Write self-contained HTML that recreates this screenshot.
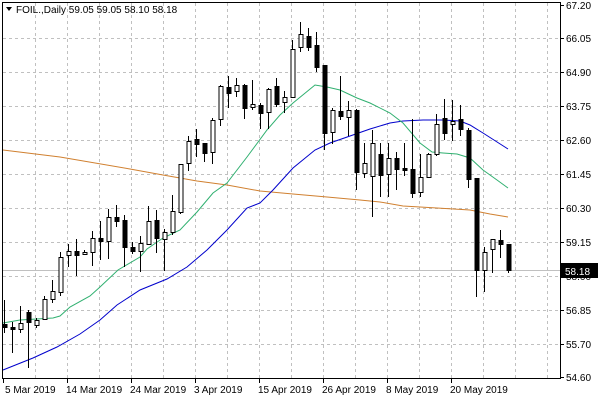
<!DOCTYPE html>
<html><head><meta charset="utf-8"><style>
html,body{margin:0;padding:0;background:#fff;}
svg{display:block;font-family:"Liberation Sans",sans-serif;font-size:10px;}
</style></head><body>
<svg width="600" height="400" xmlns="http://www.w3.org/2000/svg">
<rect width="600" height="400" fill="#fff"/>
<g stroke="#c0c0c0" stroke-dasharray="3,3" stroke-width="1">
<line x1="3" x2="560" y1="38.5" y2="38.5"/><line x1="3" x2="560" y1="72.5" y2="72.5"/><line x1="3" x2="560" y1="106.5" y2="106.5"/><line x1="3" x2="560" y1="140.5" y2="140.5"/><line x1="3" x2="560" y1="174.5" y2="174.5"/><line x1="3" x2="560" y1="208.5" y2="208.5"/><line x1="3" x2="560" y1="242.5" y2="242.5"/><line x1="3" x2="560" y1="276.5" y2="276.5"/><line x1="3" x2="560" y1="310.5" y2="310.5"/><line x1="3" x2="560" y1="344.5" y2="344.5"/>
<line y1="3" y2="378" x1="35.5" x2="35.5"/><line y1="3" y2="378" x1="67.5" x2="67.5"/><line y1="3" y2="378" x1="99.5" x2="99.5"/><line y1="3" y2="378" x1="131.5" x2="131.5"/><line y1="3" y2="378" x1="163.5" x2="163.5"/><line y1="3" y2="378" x1="195.5" x2="195.5"/><line y1="3" y2="378" x1="227.5" x2="227.5"/><line y1="3" y2="378" x1="259.5" x2="259.5"/><line y1="3" y2="378" x1="291.5" x2="291.5"/><line y1="3" y2="378" x1="323.5" x2="323.5"/><line y1="3" y2="378" x1="355.5" x2="355.5"/><line y1="3" y2="378" x1="387.5" x2="387.5"/><line y1="3" y2="378" x1="419.5" x2="419.5"/><line y1="3" y2="378" x1="451.5" x2="451.5"/><line y1="3" y2="378" x1="483.5" x2="483.5"/><line y1="3" y2="378" x1="515.5" x2="515.5"/><line y1="3" y2="378" x1="547.5" x2="547.5"/>
</g>
<line x1="3" x2="560" y1="270.5" y2="270.5" stroke="#c0c0c0"/>
<polyline fill="none" stroke="#d08030" stroke-width="1" points="3,150 60,157 130,169 163,175 197,181 227,185 260,191 293,194 327,197 360,200 380,202 403,206 437,208 470,210 490,214 508,217"/>
<polyline fill="none" stroke="#0000cc" stroke-width="1" points="3,370 33,358 57,347 80,334 100,320 117,305 140,290 167,279 187,267 207,250 227,230 247,208 260,203 273,190 293,168 315,150 330,143 350,136 370,129 390,123 403,121 423,120 443,120 460,121 470,125 483,133 508,149"/>
<polyline fill="none" stroke="#30b070" stroke-width="1" points="3,323 20,320 53,318 60,316 70,307 90,296 100,287 118,270 140,257 147,249 163,238 180,230 197,212 213,193 227,183 247,157 267,130 280,115 293,103 315,85 327,87 340,90 357,98 370,103 390,113 403,123 420,143 432,152 443,153 457,154 470,158 483,170 497,180 508,188"/>
<g stroke="#000" stroke-width="1" id="c">
<line x1="4.5" x2="4.5" y1="300" y2="333"/><rect x="3" y="324.5" width="4" height="3" fill="#000"/>
<line x1="12.5" x2="12.5" y1="322" y2="353"/><rect x="11" y="327.5" width="4" height="2" fill="#000"/>
<line x1="20.5" x2="20.5" y1="306" y2="333"/><rect x="19" y="323.5" width="4" height="6" fill="#fff"/>
<line x1="28.5" x2="28.5" y1="310" y2="368"/><rect x="27" y="312.5" width="4" height="10" fill="#000"/>
<line x1="36.5" x2="36.5" y1="318" y2="328"/><rect x="35" y="320.5" width="4" height="5" fill="#fff"/>
<line x1="44.5" x2="44.5" y1="296" y2="320"/><rect x="43" y="299.5" width="4" height="20" fill="#fff"/>
<line x1="52.5" x2="52.5" y1="280" y2="303"/><rect x="51" y="291.5" width="4" height="8" fill="#fff"/>
<line x1="60.5" x2="60.5" y1="252" y2="296"/><rect x="59" y="257.5" width="4" height="35" fill="#fff"/>
<line x1="68.5" x2="68.5" y1="244" y2="267"/><rect x="67" y="251.5" width="4" height="4" fill="#fff"/>
<line x1="76.5" x2="76.5" y1="239" y2="276"/><rect x="75" y="251.5" width="4" height="4" fill="#000"/>
<line x1="84.5" x2="84.5" y1="250" y2="254"/><rect x="83" y="252.5" width="4" height="2" fill="#fff"/>
<line x1="92.5" x2="92.5" y1="231" y2="266"/><rect x="91" y="238.5" width="4" height="14" fill="#fff"/>
<line x1="100.5" x2="100.5" y1="221" y2="260"/><rect x="99" y="238.5" width="4" height="3" fill="#000"/>
<line x1="108.5" x2="108.5" y1="209" y2="259"/><rect x="107" y="217.5" width="4" height="24" fill="#fff"/>
<line x1="116.5" x2="116.5" y1="205" y2="227"/><rect x="115" y="217.5" width="4" height="4" fill="#000"/>
<line x1="124.5" x2="124.5" y1="215" y2="267"/><rect x="123" y="220.5" width="4" height="27" fill="#000"/>
<line x1="132.5" x2="132.5" y1="242" y2="254"/><rect x="131" y="247.5" width="4" height="4" fill="#000"/>
<line x1="140.5" x2="140.5" y1="236" y2="272"/><rect x="139" y="243.5" width="4" height="8" fill="#fff"/>
<line x1="148.5" x2="148.5" y1="206" y2="245"/><rect x="147" y="221.5" width="4" height="23" fill="#fff"/>
<line x1="156.5" x2="156.5" y1="210" y2="253"/><rect x="155" y="220.5" width="4" height="18" fill="#000"/>
<line x1="164.5" x2="164.5" y1="229" y2="271"/><rect x="163" y="232.5" width="4" height="7" fill="#fff"/>
<line x1="172.5" x2="172.5" y1="195" y2="235"/><rect x="171" y="211.5" width="4" height="21" fill="#fff"/>
<line x1="180.5" x2="180.5" y1="164" y2="214"/><rect x="179" y="164.5" width="4" height="48" fill="#fff"/>
<line x1="188.5" x2="188.5" y1="136" y2="171"/><rect x="187" y="141.5" width="4" height="22" fill="#fff"/>
<line x1="196.5" x2="196.5" y1="129" y2="157"/><rect x="195" y="139.5" width="4" height="5" fill="#000"/>
<line x1="204.5" x2="204.5" y1="143" y2="162"/><rect x="203" y="143.5" width="4" height="10" fill="#000"/>
<line x1="212.5" x2="212.5" y1="118" y2="164"/><rect x="211" y="120.5" width="4" height="32" fill="#fff"/>
<line x1="220.5" x2="220.5" y1="85" y2="126"/><rect x="219" y="86.5" width="4" height="33" fill="#fff"/>
<line x1="228.5" x2="228.5" y1="76" y2="108"/><rect x="227" y="87.5" width="4" height="6" fill="#000"/>
<line x1="236.5" x2="236.5" y1="78" y2="97"/><rect x="235" y="85.5" width="4" height="6" fill="#fff"/>
<line x1="244.5" x2="244.5" y1="84" y2="119"/><rect x="243" y="85.5" width="4" height="23" fill="#000"/>
<line x1="252.5" x2="252.5" y1="80" y2="110"/><rect x="251" y="104.5" width="4" height="3" fill="#fff"/>
<line x1="260.5" x2="260.5" y1="103" y2="129"/><rect x="259" y="105.5" width="4" height="8" fill="#000"/>
<line x1="268.5" x2="268.5" y1="88" y2="129"/><rect x="267" y="89.5" width="4" height="23" fill="#fff"/>
<line x1="276.5" x2="276.5" y1="78" y2="107"/><rect x="275" y="86.5" width="4" height="18" fill="#000"/>
<line x1="284.5" x2="284.5" y1="91" y2="113"/><rect x="283" y="97.5" width="4" height="5" fill="#fff"/>
<line x1="292.5" x2="292.5" y1="40" y2="98"/><rect x="291" y="49.5" width="4" height="48" fill="#fff"/>
<line x1="300.5" x2="300.5" y1="22" y2="52"/><rect x="299" y="34.5" width="4" height="13" fill="#fff"/>
<line x1="308.5" x2="308.5" y1="28" y2="51"/><rect x="307" y="36.5" width="4" height="11" fill="#000"/>
<line x1="316.5" x2="316.5" y1="32" y2="72"/><rect x="315" y="45.5" width="4" height="22" fill="#000"/>
<line x1="324.5" x2="324.5" y1="65" y2="150"/><rect x="323" y="65.5" width="4" height="68" fill="#000"/>
<line x1="332.5" x2="332.5" y1="108" y2="144"/><rect x="331" y="110.5" width="4" height="22" fill="#fff"/>
<line x1="340.5" x2="340.5" y1="76" y2="120"/><rect x="339" y="111.5" width="4" height="5" fill="#000"/>
<line x1="348.5" x2="348.5" y1="101" y2="136"/><rect x="347" y="110.5" width="4" height="7" fill="#fff"/>
<line x1="356.5" x2="356.5" y1="109" y2="190"/><rect x="355" y="110.5" width="4" height="62" fill="#000"/>
<line x1="364.5" x2="364.5" y1="143" y2="178"/><rect x="363" y="163.5" width="4" height="10" fill="#fff"/>
<line x1="372.5" x2="372.5" y1="130" y2="217"/><rect x="371" y="143.5" width="4" height="33" fill="#fff"/>
<line x1="380.5" x2="380.5" y1="143" y2="197"/><rect x="379" y="154.5" width="4" height="21" fill="#000"/>
<line x1="388.5" x2="388.5" y1="143" y2="197"/><rect x="387" y="158.5" width="4" height="16" fill="#fff"/>
<line x1="396.5" x2="396.5" y1="152" y2="190"/><rect x="395" y="158.5" width="4" height="11" fill="#000"/>
<line x1="404.5" x2="404.5" y1="143" y2="176"/><rect x="403" y="168.5" width="4" height="2" fill="#000"/>
<line x1="412.5" x2="412.5" y1="119" y2="198"/><rect x="411" y="169.5" width="4" height="24" fill="#000"/>
<line x1="420.5" x2="420.5" y1="154" y2="197"/><rect x="419" y="177.5" width="4" height="15" fill="#fff"/>
<line x1="428.5" x2="428.5" y1="153" y2="178"/><rect x="427" y="154.5" width="4" height="23" fill="#fff"/>
<line x1="436.5" x2="436.5" y1="114" y2="156"/><rect x="435" y="124.5" width="4" height="30" fill="#fff"/>
<line x1="444.5" x2="444.5" y1="99" y2="140"/><rect x="443" y="118.5" width="4" height="15" fill="#000"/>
<line x1="452.5" x2="452.5" y1="100" y2="141"/><rect x="451" y="121.5" width="4" height="3" fill="#fff"/>
<line x1="460.5" x2="460.5" y1="105" y2="136"/><rect x="459" y="119.5" width="4" height="10" fill="#000"/>
<line x1="468.5" x2="468.5" y1="128" y2="188"/><rect x="467" y="130.5" width="4" height="49" fill="#000"/>
<line x1="476.5" x2="476.5" y1="178" y2="297"/><rect x="475" y="178.5" width="4" height="92" fill="#000"/>
<line x1="484.5" x2="484.5" y1="247" y2="292"/><rect x="483" y="252.5" width="4" height="18" fill="#fff"/>
<line x1="492.5" x2="492.5" y1="239" y2="273"/><rect x="491" y="239.5" width="4" height="10" fill="#fff"/>
<line x1="500.5" x2="500.5" y1="230" y2="258"/><rect x="499" y="240.5" width="4" height="4" fill="#000"/>
<line x1="508.5" x2="508.5" y1="244" y2="273"/><rect x="507" y="244.5" width="4" height="26" fill="#000"/>
</g>
<rect x="2.5" y="2.5" width="558" height="376" fill="none" stroke="#000"/>
<g stroke="#000">
<line x1="560" x2="564" y1="5.5" y2="5.5"/><line x1="560" x2="564" y1="38.5" y2="38.5"/><line x1="560" x2="564" y1="72.5" y2="72.5"/><line x1="560" x2="564" y1="106.5" y2="106.5"/><line x1="560" x2="564" y1="140.5" y2="140.5"/><line x1="560" x2="564" y1="174.5" y2="174.5"/><line x1="560" x2="564" y1="208.5" y2="208.5"/><line x1="560" x2="564" y1="242.5" y2="242.5"/><line x1="560" x2="564" y1="276.5" y2="276.5"/><line x1="560" x2="564" y1="310.5" y2="310.5"/><line x1="560" x2="564" y1="344.5" y2="344.5"/><line x1="560" x2="564" y1="377.5" y2="377.5"/>
<line x1="3.5" x2="3.5" y1="378" y2="383"/><line x1="67.5" x2="67.5" y1="378" y2="383"/><line x1="131.5" x2="131.5" y1="378" y2="383"/><line x1="195.5" x2="195.5" y1="378" y2="383"/><line x1="259.5" x2="259.5" y1="378" y2="383"/><line x1="323.5" x2="323.5" y1="378" y2="383"/><line x1="387.5" x2="387.5" y1="378" y2="383"/><line x1="451.5" x2="451.5" y1="378" y2="383"/>
</g>
<g fill="#000">
<text x="566" y="9">67.20</text><text x="566" y="42">66.05</text><text x="566" y="76">64.90</text><text x="566" y="110">63.75</text><text x="566" y="144">62.60</text><text x="566" y="178">61.45</text><text x="566" y="212">60.30</text><text x="566" y="246">59.15</text><text x="566" y="280">58.00</text><text x="566" y="314">56.85</text><text x="566" y="348">55.70</text><text x="566" y="381">54.60</text>
<text x="5" y="393">5 Mar 2019</text><text x="66" y="393">14 Mar 2019</text><text x="130" y="393">24 Mar 2019</text><text x="194" y="393">3 Apr 2019</text><text x="258" y="393">15 Apr 2019</text><text x="322" y="393">26 Apr 2019</text><text x="386" y="393">8 May 2019</text><text x="450" y="393">20 May 2019</text>
</g>
<rect x="561" y="263" width="37" height="15" fill="#000"/>
<text x="565" y="275" fill="#fff">58.18</text>
<polygon points="6,7 12,7 9,11" fill="#000"/>
<text x="16" y="13" fill="#000">FOIL.,Daily  59.05 59.05 58.10 58.18</text>
</svg>
</body></html>
